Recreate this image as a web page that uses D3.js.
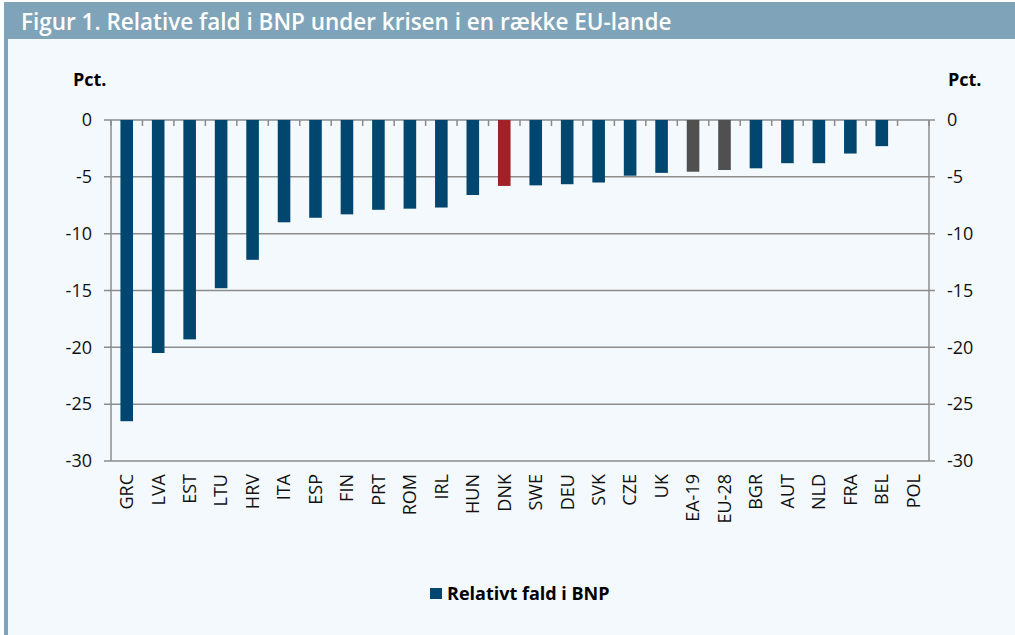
<!DOCTYPE html>
<meta charset="utf-8">
<title>Figur 1</title>
<style>
body { margin: 0; background: #fff; }
svg text { font-family: "Open Sans", "Noto Sans", sans-serif; }
.axis text { font-size: 18px; fill: #111; }
.xlab text { font-size: 18px; fill: #111; }
</style>
<body>
<svg width="1015" height="635"></svg>
<script src="https://d3js.org/d3.v7.min.js"></script>
<script>

var countries = ["GRC", "LVA", "EST", "LTU", "HRV", "ITA", "ESP", "FIN", "PRT", "ROM", "IRL", "HUN", "DNK",
                 "SWE", "DEU", "SVK", "CZE", "UK", "EA-19", "EU-28", "BGR", "AUT", "NLD", "FRA", "BEL", "POL"];
var fall = [-26.5, -20.5, -19.3, -14.8, -12.3, -9.0, -8.6, -8.3, -7.9, -7.8, -7.7, -6.6, -5.8,
            -5.75, -5.65, -5.5, -4.9, -4.65, -4.55, -4.4, -4.25, -3.8, -3.8, -2.95, -2.3, 0];
var yTicks = [0, -5, -10, -15, -20, -25, -30];
var seriesName = "Relativt fald i BNP";

var svg = d3.select("svg");

var navy = "#00466e", red = "#a02128", grey = "#505050", axisGrey = "#8c8c8c";

function barColor(d) {
  if (d === "DNK") return red;
  if (d === "EA-19" || d === "EU-28") return grey;
  return navy;
}

// frame
svg.append("rect").attr("x", 4).attr("y", 2).attr("width", 1011).attr("height", 633).attr("fill", "#7fa3b8");
svg.append("rect").attr("x", 8).attr("y", 39).attr("width", 1007).attr("height", 596).attr("fill", "#f4f9fd");

svg.append("text")
    .attr("x", 21).attr("y", 30)
    .attr("fill", "#fff")
    .attr("font-size", "22.5px")
    .attr("font-weight", 600)
    .text("Figur 1. Relative fald i BNP under krisen i en række EU-lande");

var plotLeft = 111, plotRight = 929, plotTop = 120, plotBottom = 461;

var x = d3.scaleBand().domain(countries).range([plotLeft, plotRight]).paddingInner(0.6).paddingOuter(0.3);
var y = d3.scaleLinear().domain([-30, 0]).range([plotBottom, plotTop]);

// grid lines
svg.append("g").selectAll("line")
    .data(yTicks)
    .enter().append("line")
      .attr("x1", plotLeft - 7).attr("x2", plotRight + 6)
      .attr("y1", function(d) { return y(d); })
      .attr("y2", function(d) { return y(d); })
      .attr("stroke", axisGrey)
      .attr("stroke-width", 1.5);

// vertical axis lines
[plotLeft, plotRight].forEach(function(px) {
  svg.append("line")
      .attr("x1", px).attr("x2", px)
      .attr("y1", plotTop).attr("y2", plotBottom)
      .attr("stroke", axisGrey)
      .attr("stroke-width", 1.5);
});

// category ticks along zero line
svg.append("g").selectAll("line")
    .data(d3.range(countries.length + 1))
    .enter().append("line")
      .attr("x1", function(i) { return plotLeft + i * x.step(); })
      .attr("x2", function(i) { return plotLeft + i * x.step(); })
      .attr("y1", plotTop).attr("y2", plotTop + 6)
      .attr("stroke", axisGrey)
      .attr("stroke-width", 1.5);

// bars
svg.append("g").selectAll("rect")
    .data(countries)
    .enter().append("rect")
      .attr("x", function(d) { return x(d); })
      .attr("width", x.bandwidth())
      .attr("y", y(0))
      .attr("height", function(d, i) { return y(fall[i]) - y(0); })
      .attr("fill", barColor);

// y labels
svg.append("g").attr("class", "axis").selectAll("text")
    .data(yTicks)
    .enter().append("text")
      .attr("x", 92)
      .attr("y", function(d) { return y(d); })
      .attr("dy", "0.35em")
      .attr("text-anchor", "end")
      .text(function(d) { return d; });

svg.append("g").attr("class", "axis").selectAll("text")
    .data(yTicks)
    .enter().append("text")
      .attr("x", 947)
      .attr("y", function(d) { return y(d); })
      .attr("dy", "0.35em")
      .text(function(d) { return d; });

svg.append("text").attr("x", 73).attr("y", 86)
    .attr("font-size", "18px").attr("font-weight", 700).text("Pct.");
svg.append("text").attr("x", 948).attr("y", 86)
    .attr("font-size", "18px").attr("font-weight", 700).text("Pct.");

// x labels
svg.append("g").attr("class", "xlab").selectAll("text")
    .data(countries)
    .enter().append("text")
      .attr("transform", function(d) {
        return "translate(" + (x(d) + x.bandwidth() / 2) + ",474) rotate(-90)";
      })
      .attr("dy", "0.35em")
      .attr("text-anchor", "end")
      .text(function(d) { return d; });

// legend
svg.append("rect").attr("x", 430).attr("y", 588).attr("width", 12).attr("height", 11).attr("fill", navy);
svg.append("text").attr("x", 447).attr("y", 600)
    .attr("font-size", "18px").attr("font-weight", 700).text(seriesName);

</script>
</body>
